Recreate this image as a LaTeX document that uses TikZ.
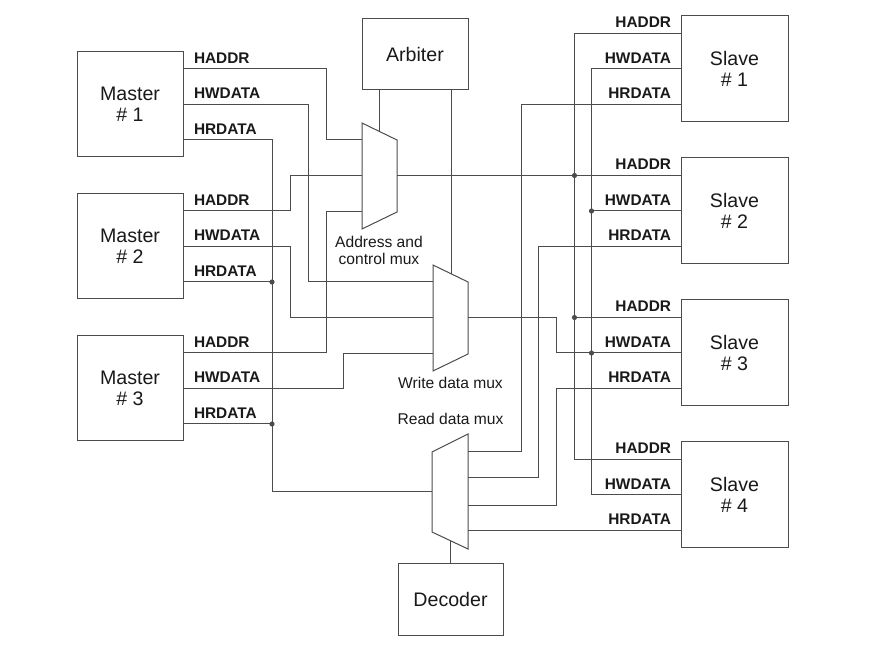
\documentclass[tikz,border=0pt]{standalone}
\usepackage{fontspec}
\setmainfont{Liberation Sans}
\usepackage{tikz}

\tikzset{
	unit/.style={draw, rectangle, inner sep=0pt, align=center, text=black!90,
		font=\fontsize{9.8}{10.5}\selectfont},
	master/.style={minimum width=53pt, minimum height=52.5pt},
	slave/.style={minimum width=53.5pt, minimum height=53pt},
	sig/.style={inner sep=0pt, text=black!90, font=\fontsize{7.7}{8}\selectfont\bfseries},
	muxlbl/.style={inner sep=0pt, align=center, text=black!90, font=\fontsize{7.8}{8.5}\selectfont},
	dot/.style={circle, fill, inner sep=0pt, minimum size=2.6pt}
}

\begin{document}
\begin{tikzpicture}[x=0.5pt, y=-0.5pt, black!70, line width=0.5pt]
	\useasboundingbox (0,0) rectangle (884,646);
	
	\node[unit, master](M1) at (130,104.5){Master\\\# 1};
	\node[unit, master, below of=M1, node distance=71pt](M2){Master\\\# 2};
	\node[unit, master, below of=M2, node distance=71pt](M3){Master\\\# 3};
	
	\node[unit, slave](S1) at (734.5,69){Slave\\\# 1};
	\node[unit, slave, below of=S1, node distance=71pt](S2){Slave\\\# 2};
	\node[unit, slave, below of=S2, node distance=71pt](S3){Slave\\\# 3};
	\node[unit, slave, below of=S3, node distance=71pt](S4){Slave\\\# 4};
	
	\node[unit, minimum width=53pt, minimum height=35.5pt](ARB) at (415,54.5){Arbiter};
	\node[unit, minimum width=52.5pt, minimum height=35.5pt](DEC) at (450.5,599.5){Decoder};
	
	\foreach \i in {1,2,3}{
		\coordinate (M\i addr) at ([yshift=17.75pt]M\i.east);
		\coordinate (M\i wdat) at (M\i.east);
		\coordinate (M\i rdat) at ([yshift=-17.75pt]M\i.east);
		\node[sig, anchor=base west](M\i addrL) at ([xshift=5pt, yshift=2.75pt]M\i addr){HADDR};
		\node[sig, anchor=base west](M\i wdatL) at ([xshift=5pt, yshift=2.75pt]M\i wdat){HWDATA};
		\node[sig, anchor=base west](M\i rdatL) at ([xshift=5pt, yshift=2.75pt]M\i rdat){HRDATA};
	}
	\foreach \i in {1,...,4}{
		\coordinate (S\i addr) at ([yshift=17.75pt]S\i.west);
		\coordinate (S\i wdat) at (S\i.west);
		\coordinate (S\i rdat) at ([yshift=-17.75pt]S\i.west);
		\node[sig, anchor=base east](S\i addrL) at ([xshift=-4.5pt, yshift=2.75pt]S\i addr){HADDR};
		\node[sig, anchor=base east](S\i wdatL) at ([xshift=-4.5pt, yshift=2.75pt]S\i wdat){HWDATA};
		\node[sig, anchor=base east](S\i rdatL) at ([xshift=-4.5pt, yshift=2.75pt]S\i rdat){HRDATA};
	}
	
	% address and control mux
	\draw (362,123) -- (397,140) -- (397,212) -- (362,229) -- cycle;
	\coordinate (AMin1) at (362,140);
	\coordinate (AMin2) at (362,175.5);
	\coordinate (AMin3) at (362,211.5);
	\coordinate (AMout) at (397,175.5);
	\coordinate (AMsel) at (379,131.3);
	\node[muxlbl](AMlbl) at (379,250.5){Address and\\control mux};
	
	% write data mux
	\draw (433,265) -- (468,282) -- (468,354) -- (433,371) -- cycle;
	\coordinate (WMin1) at (433,282);
	\coordinate (WMin2) at (433,318);
	\coordinate (WMin3) at (433,353.5);
	\coordinate (WMout) at (468,318);
	\coordinate (WMsel) at (451,273.7);
	\node[muxlbl](WMlbl) at (450.5,383){Write data mux};
	
	% read data mux
	\draw (432,452) -- (468,434) -- (468,549) -- (432,532) -- cycle;
	\coordinate (RMin) at (432,492);
	\coordinate (RMout1) at (468,452);
	\coordinate (RMout2) at (468,478);
	\coordinate (RMout3) at (468,506);
	\coordinate (RMsel) at (450.5,540.7);
	\node[muxlbl](RMlbl) at (450.5,419){Read data mux};
	
	\draw (ARB.south -| AMsel) -- (AMsel);
	\draw (ARB.south -| WMsel) -- (WMsel);
	\draw (DEC.north) -- (RMsel);
	
	% masters to muxes
	\draw (M1addr) -| (326,140) -- (AMin1);
	\draw (M2addr) -| (290,175.5) -- (AMin2);
	\draw (M3addr) -| (326,211.5) -- (AMin3);
	
	\draw (M1wdat) -| (308,282) -- (WMin1);
	\draw (M2wdat) -| (290,318) -- (WMin2);
	\draw (M3wdat) -| (343,353.5) -- (WMin3);
	
	\coordinate (RDbus) at (272,492);
	\draw (M1rdat) -| (RDbus) -- (RMin);
	\draw (M2rdat) -- (M2rdat -| RDbus) node[dot](dM2){};
	\draw (M3rdat) -- (M3rdat -| RDbus) node[dot](dM3){};
	
	% muxes to slaves
	\coordinate (HAbus) at ([xshift=-53pt]S4addr);
	\draw (S1addr) -| (HAbus) -- (S4addr);
	\draw (AMout) -- (S2addr);
	\node[dot](dS2a) at (S2addr -| HAbus){};
	\draw (S3addr) -- (S3addr -| HAbus) node[dot](dS3a){};
	
	\coordinate (HWbus) at ([xshift=-44.5pt]S4wdat);
	\draw (S1wdat) -| (HWbus) -- (S4wdat);
	\draw (S2wdat) -- (S2wdat -| HWbus) node[dot](dS2w){};
	\draw (WMout) -| ([xshift=-62pt]S3wdat) -- (S3wdat);
	\node[dot](dS3w) at (S3wdat -| HWbus){};
	
	\draw (RMout1) -| ([xshift=-79.5pt]S1rdat) -- (S1rdat);
	\draw (RMout2) -| ([xshift=-71pt]S2rdat) -- (S2rdat);
	\draw (RMout3) -| ([xshift=-62pt]S3rdat) -- (S3rdat);
	\draw (RMout1 |- S4rdat) -- (S4rdat);
\end{tikzpicture}
\end{document}
